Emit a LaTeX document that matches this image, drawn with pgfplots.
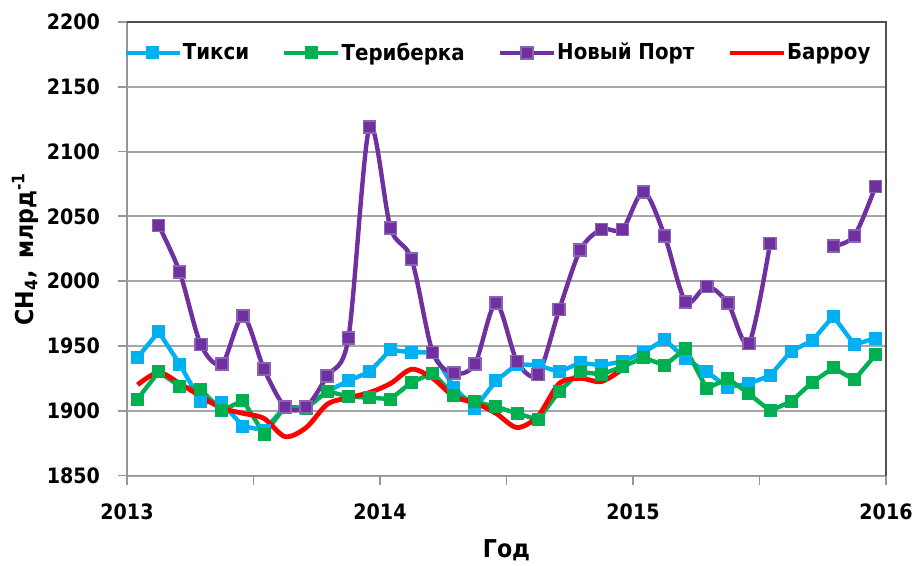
\documentclass[border=0pt]{standalone}
\usepackage{fontspec}
\setmainfont{DejaVu Sans Condensed}[BoldFont={DejaVu Sans Condensed Bold}]
\usepackage{pgfplots}
\usepackage{pgfplotstable}
\pgfplotsset{compat=1.18}
\definecolor{tiksi}{HTML}{00B0F0}
\definecolor{teri}{HTML}{00B050}
\definecolor{nport}{HTML}{7030A0}
\definecolor{nportedge}{HTML}{8A64B4}
\definecolor{barrow}{HTML}{FF0000}
\definecolor{gridgray}{HTML}{A6A6A6}
\definecolor{axgray}{HTML}{969696}
\definecolor{boxgray}{HTML}{505050}

\pgfplotstableread{
x y
2013.0417 1941
2013.1250 1961
2013.2083 1936
2013.2917 1907
2013.3750 1906
2013.4583 1888
2013.5417 1885
2013.6250 1903
2013.7083 1902
2013.7917 1915
2013.8750 1923
2013.9583 1930
2014.0417 1947
2014.1250 1945
2014.2083 1945
2014.2917 1918
2014.3750 1902
2014.4583 1923
2014.5417 1936
2014.6250 1935
2014.7083 1930
2014.7917 1937
2014.8750 1935
2014.9583 1938
2015.0417 1945
2015.1250 1955
2015.2083 1940
2015.2917 1930
2015.3750 1918
2015.4583 1921
2015.5417 1927
2015.6250 1946
2015.7083 1954
2015.7917 1973
2015.8750 1951
2015.9583 1956
}\tiksidata

\pgfplotstableread{
x y
2013.0417 1909
2013.1250 1930
2013.2083 1919
2013.2917 1916
2013.3750 1900
2013.4583 1908
2013.5417 1882
2013.6250 1903
2013.7083 1902
2013.7917 1915
2013.8750 1911
2013.9583 1910
2014.0417 1909
2014.1250 1922
2014.2083 1929
2014.2917 1912
2014.3750 1907
2014.4583 1903
2014.5417 1898
2014.6250 1893
2014.7083 1915
2014.7917 1930
2014.8750 1928
2014.9583 1934
2015.0417 1941
2015.1250 1935
2015.2083 1948
2015.2917 1917
2015.3750 1925
2015.4583 1913
2015.5417 1900
2015.6250 1907
2015.7083 1922
2015.7917 1933
2015.8750 1924
2015.9583 1943
}\teridata

\pgfplotstableread{
x y
2013.1250 2043
2013.2083 2007
2013.2917 1951
2013.3750 1936
2013.4583 1973
2013.5417 1932
2013.6250 1903
2013.7083 1903
2013.7917 1927
2013.8750 1956
2013.9583 2119
2014.0417 2041
2014.1250 2017
2014.2083 1945
2014.2917 1929
2014.3750 1936
2014.4583 1983
2014.5417 1938
2014.6250 1928
2014.7083 1978
2014.7917 2024
2014.8750 2040
2014.9583 2040
2015.0417 2069
2015.1250 2035
2015.2083 1984
2015.2917 1996
2015.3750 1983
2015.4583 1952
2015.5417 2029
2015.6250 nan
2015.7083 nan
2015.7917 2027
2015.8750 2035
2015.9583 2073
}\nportdata

\pgfplotstableread{
x y
2013.0417 1920
2013.1250 1929.5
2013.2083 1921
2013.2917 1911
2013.3750 1902
2013.4583 1898
2013.5417 1894
2013.6250 1880
2013.7083 1887
2013.7917 1905
2013.8750 1910
2013.9583 1914
2014.0417 1921
2014.1250 1932
2014.2083 1925
2014.2917 1911
2014.3750 1906
2014.4583 1898
2014.5417 1887
2014.6250 1896
2014.7083 1921
2014.7917 1925
2014.8750 1922.5
2014.9583 1932
}\barrowdata

\begin{document}
\begin{tikzpicture}
\begin{axis}[
  scale only axis, width=379.5bp, height=226.75bp,
  xmin=2013, xmax=2016, ymin=1850, ymax=2200,
  xtick={2013,2014,2015,2016},
  xticklabels={2013,2014,2015,2016},
  minor xtick={2013.5,2014.5,2015.5},
  ytick={1850,1900,...,2200},
  ymajorgrids, grid style={color=gridgray, line width=1bp},
  minor x grid style={draw=none},
  axis x line*=bottom, axis y line*=left,
  axis line style={color=axgray, line width=0.9bp},
  tick align=outside, major tick length=4.5bp, minor tick length=4.5bp,
  every tick/.style={color=axgray, line width=0.9bp},
  /pgf/number format/assume math mode=true,
  /pgf/number format/1000 sep={},
  tick label style={font=\fontsize{10.6bp}{12bp}\selectfont\bfseries},
  yticklabel style={xshift=-5.5bp},
  xticklabel style={yshift=-6bp},
  xlabel={Год},
  ylabel={CH\textsubscript{4},\ \,млрд\textsuperscript{-1}},
  label style={font=\fontsize{12.3bp}{13bp}\selectfont\bfseries},
  xlabel style={at={(rel axis cs:0.5,-0.1819)}, anchor=base},
  ylabel style={at={(rel axis cs:-0.1238,0.5)}, anchor=base, rotate=0},
  clip=false,
  unbounded coords=jump,
  legend columns=4,
  legend cell align=left,
  legend style={draw=none, fill=none, inner sep=0pt,
    at={(rel axis cs:0,1)}, anchor=west, yshift=-15.5bp, xshift=-2bp,
    font=\fontsize{11bp}{12bp}\selectfont\bfseries,
    nodes={inner sep=0.5bp},
    /tikz/every even column/.append style={column sep=16bp}},
  legend image code/.code={\draw[mark repeat=2,mark phase=2,#1] plot coordinates {(0bp,0bp) (13.5bp,0bp) (27bp,0bp)};},
]
\addplot[color=tiksi, line width=2.2bp, mark=square*, mark size=3bp, mark options={fill=tiksi, draw=tiksi, line width=0.5bp}] table[x=x,y=y] {\tiksidata};
\addlegendentry{Тикси}
\addplot[color=teri, line width=2.2bp, mark=square*, mark size=3bp, mark options={fill=teri, draw=teri, line width=0.5bp}] table[x=x,y=y] {\teridata};
\addlegendentry{Териберка}
\addplot[color=nport, line width=2.2bp, smooth, mark=square*, mark size=3bp, mark options={fill=nport, draw=nportedge, line width=0.8bp}] table[x=x,y=y] {\nportdata};
\addlegendentry{Новый Порт}
\addplot[color=barrow, line width=2.4bp, smooth, no markers] table[x=x,y=y] {\barrowdata};
\addlegendentry{Барроу}
\draw[color=boxgray, line width=0.9bp] (rel axis cs:0,1) -- (rel axis cs:1,1) -- (rel axis cs:1,0);
\end{axis}
\pgfresetboundingbox
\path[use as bounding box] ([shift={(-63.5bp,-45.25bp)}]current axis.south west) rectangle ([shift={(14.5bp,11bp)}]current axis.north east);
\end{tikzpicture}
\end{document}
